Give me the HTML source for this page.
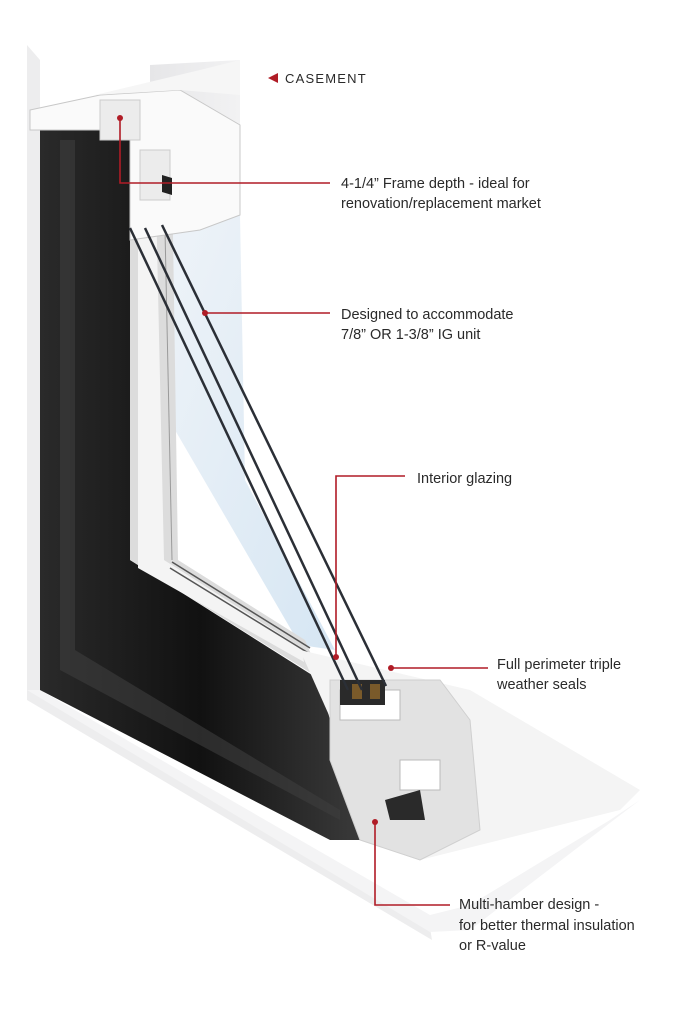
<!DOCTYPE html>
<html><head><meta charset="utf-8"><style>
html,body{margin:0;padding:0;background:#fff}
svg{display:block}
text{font-family:"Liberation Sans",sans-serif;fill:#2a2a2a}
</style></head><body>
<svg width="683" height="1024" viewBox="0 0 683 1024" xmlns="http://www.w3.org/2000/svg">
<defs>
<linearGradient id="wall" x1="0" y1="0" x2="1" y2="0"><stop offset="0" stop-color="#e6e6e8"/><stop offset="1" stop-color="#f2f2f3"/></linearGradient>
<linearGradient id="dark" x1="0" y1="0" x2="1" y2="0"><stop offset="0" stop-color="#2a2a2a"/><stop offset="0.5" stop-color="#111"/><stop offset="1" stop-color="#3a3a3a"/></linearGradient>
<linearGradient id="glass" x1="0" y1="0" x2="1" y2="1"><stop offset="0" stop-color="#eef3f8"/><stop offset="1" stop-color="#d6e6f3"/></linearGradient>
</defs>
<!-- right wall panel -->
<polygon points="150,65 240,60 240,470 150,300" fill="url(#wall)"/>
<!-- glass pane area -->
<polygon points="170,215 240,215 245,480 335,650 300,645 175,430" fill="url(#glass)"/>
<!-- outer left white frame -->
<polygon points="27,45 40,60 40,690 430,928 432,940 27,700" fill="#ededee"/>
<polygon points="27,690 40,690 430,915 470,905 610,820 640,800 470,930 430,932" fill="#f4f4f5"/>
<!-- dark frame -->
<polygon points="40,130 130,130 130,560 320,680 360,840 330,840 40,690" fill="url(#dark)"/>
<polygon points="60,140 75,140 75,650 340,810 340,820 60,670" fill="#3d3d3d" opacity="0.6"/>
<!-- inner white stops -->
<polygon points="130,170 172,170 178,560 305,640 322,680 130,560" fill="#dcdcdc"/>
<polygon points="138,200 156,200 164,560 302,648 304,662 138,568" fill="#f4f4f4"/>
<line x1="165" y1="230" x2="172" y2="560" stroke="#9a9a9a" stroke-width="1"/>
<line x1="172" y1="562" x2="310" y2="648" stroke="#555" stroke-width="1.5"/>
<line x1="170" y1="568" x2="310" y2="654" stroke="#555" stroke-width="1.5"/>
<!-- sill -->
<polygon points="300,650 470,690 640,790 620,810 420,860 380,830" fill="#f4f4f4"/>
<polygon points="330,680 440,680 470,720 480,830 420,860 360,840 330,760" fill="#e2e2e2" stroke="#cfcfcf"/>
<rect x="340" y="690" width="60" height="30" fill="#fff" stroke="#bbb"/>
<rect x="400" y="760" width="40" height="30" fill="#fff" stroke="#bbb"/>
<polygon points="385,800 420,790 425,820 390,820" fill="#2a2a2a"/>
<rect x="340" y="680" width="45" height="25" fill="#2a2a2a"/>
<rect x="352" y="684" width="10" height="15" fill="#7a5a2a"/>
<rect x="370" y="684" width="10" height="15" fill="#7a5a2a"/>
<!-- top profile -->
<polygon points="30,110 100,95 180,90 240,125 240,215 200,230 130,240 130,130 30,130" fill="#fafafa" stroke="#c8c8c8"/>
<polygon points="95,95 200,70 240,60 240,95 180,90" fill="#f6f6f6"/>
<rect x="100" y="100" width="40" height="40" fill="#ececec" stroke="#ccc"/>
<rect x="140" y="150" width="30" height="50" fill="#ececec" stroke="#ccc"/>
<polygon points="162,175 172,178 172,195 162,192" fill="#222"/>
<!-- glass lines -->
<g stroke="#2b2f36" stroke-width="2.5" fill="none">
<line x1="130" y1="228" x2="348" y2="690"/>
<line x1="145" y1="228" x2="362" y2="690"/>
<line x1="162" y1="225" x2="386" y2="686"/>
</g>
<!-- callouts -->
<g stroke="#b01c26" stroke-width="1.6" fill="none">
<polyline points="120,118 120,183 330,183"/>
<line x1="205" y1="313" x2="330" y2="313"/>
<polyline points="405,476 336,476 336,657"/>
<line x1="391" y1="668" x2="488" y2="668"/>
<polyline points="375,822 375,905 450,905"/>
</g>
<g fill="#b01c26">
<circle cx="120" cy="118" r="3"/><circle cx="205" cy="313" r="3"/>
<circle cx="336" cy="657" r="3"/><circle cx="391" cy="668" r="3"/><circle cx="375" cy="822" r="3"/>
<polygon points="268,78 278,73 278,83"/>
</g>
<text x="285" y="83" font-size="13" letter-spacing="1.2" fill="#444">CASEMENT</text>
<g font-size="14.5">
<text x="341" y="188">4-1/4” Frame depth - ideal for</text>
<text x="341" y="208">renovation/replacement market</text>
<text x="341" y="319">Designed to accommodate</text>
<text x="341" y="339">7/8” OR 1-3/8” IG unit</text>
<text x="417" y="483">Interior glazing</text>
<text x="497" y="669">Full perimeter triple</text>
<text x="497" y="689">weather seals</text>
<text x="459" y="909">Multi-hamber design -</text>
<text x="459" y="930">for better thermal insulation</text>
<text x="459" y="950">or R-value</text>
</g>
</svg>
</body></html>
